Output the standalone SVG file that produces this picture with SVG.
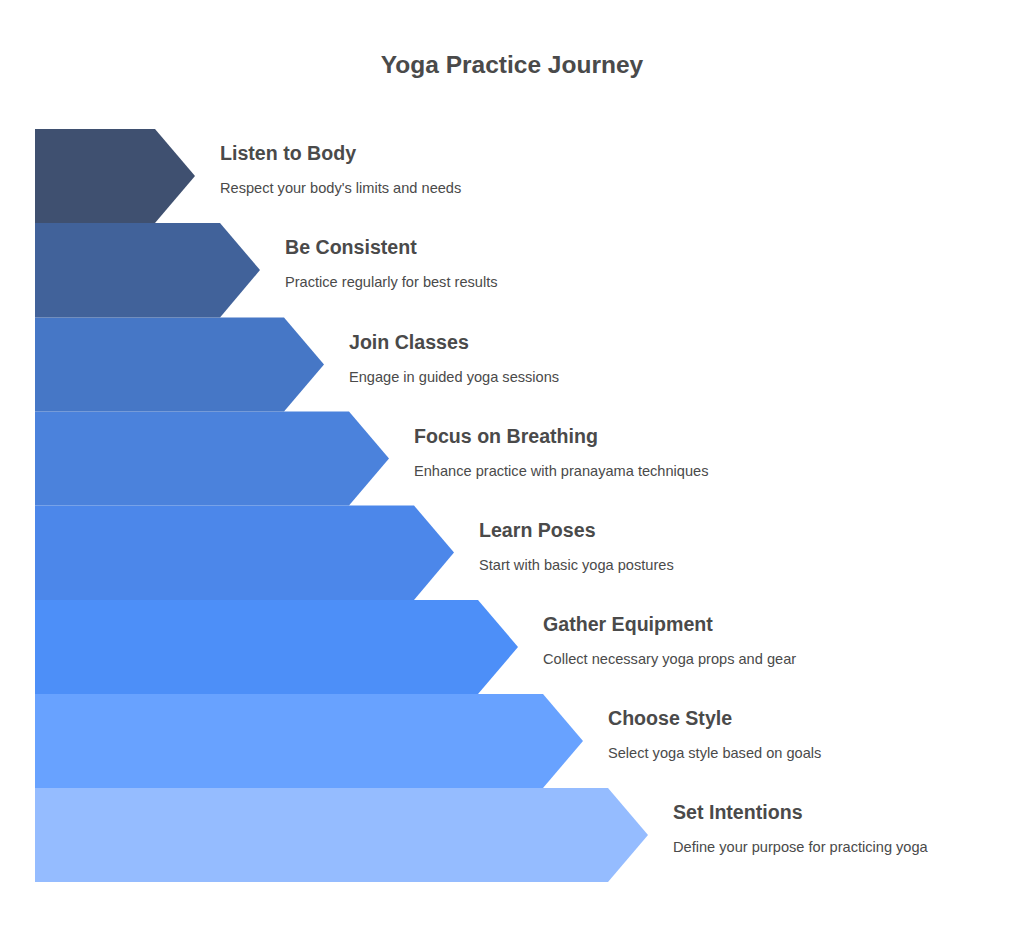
<svg xmlns="http://www.w3.org/2000/svg" width="1024" height="930" viewBox="0 0 1024 930">
<style>
.t{font-family:"Liberation Sans",Arial,sans-serif;font-weight:bold;font-size:19.6px;fill:#4a4a4a}
.d{font-family:"Liberation Sans",Arial,sans-serif;font-size:14.6px;fill:#4a4a4a}
.h{font-family:"Liberation Sans",Arial,sans-serif;font-weight:bold;font-size:24.5px;fill:#4a4a4a}
</style>
<rect width="1024" height="930" fill="#ffffff"/>
<text class="h" x="512" y="73" text-anchor="middle">Yoga Practice Journey</text>
<g id="step8">
<path d="M35,788 H608 L648,835 L608,882 H35 Z" fill="#95BCFF"/>
<text class="t" x="673" y="819">Set Intentions</text>
<text class="d" x="673" y="852">Define your purpose for practicing yoga</text>
</g>
<g id="step7">
<path d="M35,694 H543 L583,741 L543,788 H35 Z" fill="#68A2FF"/>
<text class="t" x="608" y="725">Choose Style</text>
<text class="d" x="608" y="758">Select yoga style based on goals</text>
</g>
<g id="step6">
<path d="M35,600 H478 L518,647 L478,694 H35 Z" fill="#4D8FF8"/>
<text class="t" x="543" y="631">Gather Equipment</text>
<text class="d" x="543" y="664">Collect necessary yoga props and gear</text>
</g>
<g id="step5">
<path d="M35,505.5 H414 L454,552.5 L414,600 H35 Z" fill="#4C87EA"/>
<text class="t" x="479" y="537">Learn Poses</text>
<text class="d" x="479" y="570">Start with basic yoga postures</text>
</g>
<g id="step4">
<path d="M35,411.5 H349 L389,458.5 L349,505.5 H35 Z" fill="#4B82DC"/>
<text class="t" x="414" y="443">Focus on Breathing</text>
<text class="d" x="414" y="476">Enhance practice with pranayama techniques</text>
</g>
<g id="step3">
<path d="M35,317.5 H284 L324,364.5 L284,411.5 H35 Z" fill="#4677C6"/>
<text class="t" x="349" y="349">Join Classes</text>
<text class="d" x="349" y="382">Engage in guided yoga sessions</text>
</g>
<g id="step2">
<path d="M35,223 H220 L260,270 L220,317.5 H35 Z" fill="#41629A"/>
<text class="t" x="285" y="254">Be Consistent</text>
<text class="d" x="285" y="287">Practice regularly for best results</text>
</g>
<g id="step1">
<path d="M35,129 H155 L195,176 L155,223 H35 Z" fill="#3F5070"/>
<text class="t" x="220" y="160">Listen to Body</text>
<text class="d" x="220" y="193">Respect your body's limits and needs</text>
</g>
<g id="connectors"/>
</svg>
